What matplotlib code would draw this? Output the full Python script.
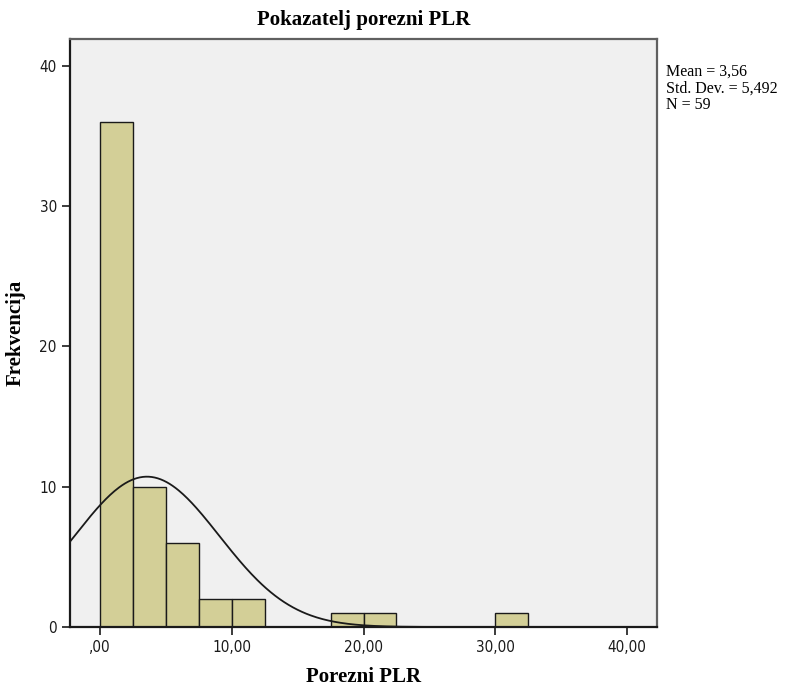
import matplotlib.pyplot as plt
import numpy as np

# histogram of Porezni PLR (bin width 2.5)
bin_edges = np.arange(0, 35, 2.5)
counts = [36, 10, 6, 2, 2, 0, 0, 1, 1, 0, 0, 0, 1]
mean = 3.56
std = 5.492
n = 59

fig = plt.figure(figsize=(7.85, 6.86), dpi=100)
ax = fig.add_axes([0.0892, 0.086, 0.7478, 0.857])
ax.set_facecolor('#f0f0f0')

ax.bar(bin_edges[:-1], counts, width=2.5, align='edge',
       color='#d3cf97', edgecolor='#1a1a1a', linewidth=1.0, zorder=2)

xs = np.linspace(-2.5, 42.5, 400)
pdf = n * 2.5 / (std * np.sqrt(2 * np.pi)) * np.exp(-0.5 * ((xs - mean) / std) ** 2)
ax.plot(xs, pdf, color='#1a1a1a', linewidth=1.3, zorder=3)

ax.set_xlim(-2.28, 42.28)
ax.set_ylim(0, 41.9)
ax.set_xticks([0, 10, 20, 30, 40])
ax.set_xticklabels([',00', '10,00', '20,00', '30,00', '40,00'])
ax.set_yticks([0, 10, 20, 30, 40])
ax.tick_params(axis='both', direction='out', length=6, width=1.2, labelsize=11,
               colors='#1a1a1a')
ax.tick_params(axis='x', pad=3)
for lab in ax.get_xticklabels() + ax.get_yticklabels():
    lab.set_fontfamily('DejaVu Sans')
    lab.set_fontstretch('condensed')

for s in ['left', 'bottom']:
    ax.spines[s].set_color('#1a1a1a')
    ax.spines[s].set_linewidth(1.6)
for s in ['top', 'right']:
    ax.spines[s].set_color('#606060')
    ax.spines[s].set_linewidth(1.6)

ax.set_title('Pokazatelj porezni PLR', fontsize=15, fontweight='bold',
             family='Liberation Serif', pad=10)
ax.set_xlabel('Porezni PLR', fontsize=15, fontweight='bold',
              family='Liberation Serif', labelpad=9)
ax.set_ylabel('Frekvencija', fontsize=15, fontweight='bold',
              family='Liberation Serif', labelpad=10)

fig.text(0.849, 0.907, 'Mean = 3,56\nStd. Dev. = 5,492\nN = 59',
         fontsize=11.5, family='Liberation Serif', va='top', ha='left',
         linespacing=1.05)

fig.savefig('out.png', dpi=100)
